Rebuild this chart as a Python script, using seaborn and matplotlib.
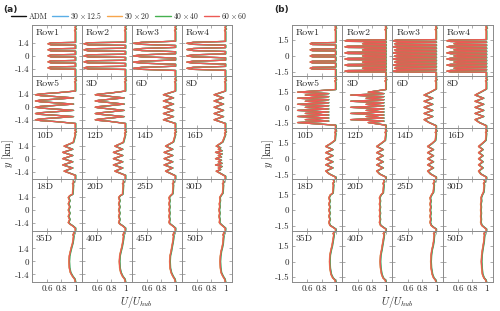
"""
Wake profiles behind wind-farm rows: ADM vs. LES grid resolutions.
Two layouts, (a) aligned and (b) staggered, 5x4 small multiples each.
"""

import matplotlib
matplotlib.use("Agg")
import matplotlib.pyplot as plt
import pandas as pd
import seaborn as sns
from matplotlib.lines import Line2D

# ── Series ──────────────────────────────────────────────────────────────────
MODELS = ["ADM", r"$30 \times 12.5$", r"$30 \times 20$", r"$40 \times 40$", r"$60 \times 60$"]
COLORS = ["#111111", "#5aaee6", "#f7a54c", "#45b04f", "#ec5a55"]
SERIES_DU = [0.0, 0.004, -0.004, 0.008, 0.0]   # small spread between the resolutions

LABELS = ["Row1", "Row2", "Row3", "Row4",
          "Row5", "3D", "6D", "8D",
          "10D", "12D", "14D", "16D",
          "18D", "20D", "25D", "30D",
          "35D", "40D", "45D", "50D"]

XTICKS = [0.6, 0.8, 1.0]
XTICKLABELS = ["0.6", "0.8", "1"]
YTICKS_A = [-1.4, 0.0, 1.4]
YTICKLABELS_A = ["-1.4", "0", "1.4"]
YTICKS_B = [-1.5, 0.0, 1.5]
YTICKLABELS_B = ["-1.5", "0", "1.5"]

# ── Panel (a): (U/Uhub, y [km]) vertices, bottom to top ──────────────────────
A_BOT = [(1.00, -2.20)]
A_TOP = [(1.00, 2.60), (0.99, 2.75), (1.01, 2.90), (0.995, 3.05), (1.005, 3.20)]

A_ROW1 = A_BOT + [
    (1.00, -1.45), (0.65, -1.41), (0.61, -1.30), (0.65, -1.19), (1.00, -1.15),
    (1.00, -0.80), (0.65, -0.76), (0.61, -0.65), (0.65, -0.54), (1.00, -0.50),
    (1.00, -0.15), (0.65, -0.11), (0.61, 0.00), (0.65, 0.11), (1.00, 0.15),
    (1.00, 0.50), (0.65, 0.54), (0.61, 0.65), (0.65, 0.76), (1.00, 0.80),
    (1.00, 1.15), (0.65, 1.19), (0.61, 1.30), (0.65, 1.41), (1.00, 1.45),
] + A_TOP
A_ROW2 = A_BOT + [
    (1.00, -1.47), (0.47, -1.42), (0.41, -1.30), (0.47, -1.18), (1.00, -1.13),
    (1.00, -0.82), (0.47, -0.77), (0.41, -0.65), (0.47, -0.53), (1.00, -0.48),
    (1.00, -0.17), (0.47, -0.12), (0.41, 0.00), (0.47, 0.12), (1.00, 0.17),
    (1.00, 0.48), (0.47, 0.53), (0.41, 0.65), (0.47, 0.77), (1.00, 0.82),
    (1.00, 1.13), (0.47, 1.18), (0.41, 1.30), (0.47, 1.42), (1.00, 1.47),
] + A_TOP
A_ROW3 = A_BOT + [
    (1.00, -1.58), (0.52, -1.46), (0.40, -1.35), (0.52, -1.24), (1.00, -1.12),
    (1.00, -0.91), (0.52, -0.79), (0.40, -0.68), (0.52, -0.57), (1.00, -0.45),
    (1.00, -0.23), (0.52, -0.11), (0.40, 0.00), (0.52, 0.11), (1.00, 0.23),
    (1.00, 0.45), (0.52, 0.57), (0.40, 0.68), (0.52, 0.79), (1.00, 0.91),
    (1.00, 1.12), (0.52, 1.24), (0.40, 1.35), (0.52, 1.46), (1.00, 1.58),
] + A_TOP
A_ROW4 = A_BOT + [
    (1.00, -1.56), (0.54, -1.46), (0.45, -1.35), (0.54, -1.24), (1.00, -1.14),
    (1.00, -0.89), (0.54, -0.79), (0.45, -0.68), (0.54, -0.57), (1.00, -0.47),
    (1.00, -0.21), (0.54, -0.11), (0.45, 0.00), (0.54, 0.11), (1.00, 0.21),
    (1.00, 0.47), (0.54, 0.57), (0.45, 0.68), (0.54, 0.79), (1.00, 0.89),
    (1.00, 1.14), (0.54, 1.24), (0.45, 1.35), (0.54, 1.46), (1.00, 1.56),
] + A_TOP
A_ROW5 = A_BOT + [
    (1.00, -1.75), (0.72, -1.55), (0.50, -1.44), (0.43, -1.35), (0.50, -1.26), (0.72, -1.15),
    (0.97, -1.01), (0.72, -0.87), (0.50, -0.77), (0.43, -0.68), (0.50, -0.59), (0.72, -0.48),
    (0.97, -0.34), (0.72, -0.20), (0.50, -0.09), (0.43, 0.00), (0.50, 0.09), (0.72, 0.20),
    (0.97, 0.34), (0.72, 0.48), (0.50, 0.59), (0.43, 0.68), (0.50, 0.77), (0.72, 0.87),
    (0.97, 1.01), (0.72, 1.15), (0.50, 1.26), (0.43, 1.35), (0.50, 1.44), (0.72, 1.55),
    (1.00, 1.75),
] + A_TOP
A_3D = A_BOT + [
    (1.00, -1.75), (0.78, -1.53), (0.62, -1.42), (0.57, -1.35), (0.62, -1.28), (0.78, -1.17),
    (0.98, -1.01), (0.78, -0.86), (0.62, -0.75), (0.57, -0.68), (0.62, -0.61), (0.78, -0.50),
    (0.98, -0.34), (0.78, -0.18), (0.62, -0.07), (0.57, 0.00), (0.62, 0.07), (0.78, 0.18),
    (0.98, 0.34), (0.78, 0.50), (0.62, 0.61), (0.57, 0.68), (0.62, 0.75), (0.78, 0.86),
    (0.98, 1.01), (0.78, 1.17), (0.62, 1.28), (0.57, 1.35), (0.62, 1.42), (0.78, 1.53),
    (1.00, 1.75),
] + A_TOP
A_6D = A_BOT + [
    (1.00, -1.75), (0.83, -1.35), (0.97, -1.01), (0.83, -0.68), (0.97, -0.34), (0.83, 0.00),
    (0.97, 0.34), (0.83, 0.68), (0.97, 1.01), (0.83, 1.35), (1.00, 1.75),
] + A_TOP
A_8D = A_BOT + [
    (1.00, -1.75), (0.84, -1.35), (0.97, -1.01), (0.84, -0.68), (0.97, -0.34), (0.84, 0.00),
    (0.97, 0.34), (0.84, 0.68), (0.97, 1.01), (0.84, 1.35), (1.00, 1.75),
] + A_TOP
A_10D = A_BOT + [
    (1.00, -1.80), (0.84, -1.35), (0.96, -1.01), (0.82, -0.68), (0.96, -0.34), (0.82, 0.00),
    (0.96, 0.34), (0.82, 0.68), (0.96, 1.01), (0.84, 1.35), (0.97, 1.75),
] + A_TOP
A_12D = A_BOT + [
    (1.00, -1.80), (0.85, -1.35), (0.96, -1.01), (0.83, -0.68), (0.96, -0.34), (0.83, 0.00),
    (0.96, 0.34), (0.83, 0.68), (0.96, 1.01), (0.85, 1.35), (0.97, 1.75),
] + A_TOP
A_14D = A_BOT + [
    (1.00, -1.85), (0.86, -1.35), (0.96, -1.01), (0.84, -0.68), (0.96, -0.34), (0.84, 0.00),
    (0.96, 0.34), (0.84, 0.68), (0.96, 1.01), (0.86, 1.35), (0.97, 1.80),
] + A_TOP
A_16D = A_BOT + [
    (1.00, -1.90), (0.87, -1.35), (0.93, -1.18), (0.90, -1.01), (0.95, -0.85), (0.86, -0.68),
    (0.95, -0.51), (0.90, -0.34), (0.94, -0.17), (0.86, 0.00), (0.94, 0.17), (0.90, 0.34),
    (0.95, 0.51), (0.86, 0.68), (0.95, 0.85), (0.90, 1.01), (0.93, 1.18), (0.87, 1.35),
    (0.96, 1.80),
] + A_TOP
A_18D = [
    (1.00, -2.20), (1.00, -1.95), (0.96, -1.70), (0.92, -1.50), (0.90, -1.35), (0.92, -1.01),
    (0.90, -0.68), (0.92, -0.34), (0.90, 0.00), (0.92, 0.34), (0.90, 0.68), (0.92, 1.01),
    (0.90, 1.35), (0.92, 1.55), (0.96, 1.70), (0.965, 2.20), (0.97, 2.70), (0.96, 2.85),
    (0.98, 3.00), (0.97, 3.15),
]
A_20D = [
    (1.00, -2.20), (1.00, -1.95), (0.96, -1.70), (0.92, -1.50), (0.905, -1.35), (0.92, -1.01),
    (0.905, -0.68), (0.92, -0.34), (0.905, 0.00), (0.92, 0.34), (0.905, 0.68), (0.92, 1.01),
    (0.905, 1.35), (0.925, 1.55), (0.96, 1.70), (0.965, 2.20), (0.97, 2.70), (0.96, 2.85),
    (0.98, 3.00), (0.97, 3.15),
]
A_25D = [
    (1.00, -2.20), (1.00, -1.95), (0.96, -1.70), (0.925, -1.50), (0.91, -1.35), (0.92, -1.01),
    (0.91, -0.68), (0.92, -0.34), (0.91, 0.00), (0.92, 0.34), (0.91, 0.68), (0.92, 1.01),
    (0.91, 1.35), (0.93, 1.55), (0.96, 1.75), (0.965, 2.20), (0.97, 2.70), (0.96, 2.85),
    (0.98, 3.00), (0.97, 3.15),
]
A_30D = [
    (1.00, -2.20), (1.00, -1.95), (0.96, -1.70), (0.93, -1.50), (0.915, -1.35), (0.92, -1.01),
    (0.91, -0.68), (0.92, -0.34), (0.91, 0.00), (0.92, 0.34), (0.915, 0.68), (0.925, 1.01),
    (0.92, 1.35), (0.935, 1.55), (0.96, 1.80), (0.965, 2.20), (0.97, 2.70), (0.96, 2.85),
    (0.98, 3.00), (0.97, 3.15),
]
A_35D = [
    (1.00, -2.20), (0.99, -1.90), (0.96, -1.60), (0.93, -1.20), (0.915, -0.70), (0.91, 0.00),
    (0.915, 0.60), (0.93, 1.10), (0.945, 1.55), (0.96, 1.95), (0.97, 2.40), (0.975, 2.75),
    (0.965, 2.90), (0.985, 3.05), (0.975, 3.20),
]
A_40D = [
    (1.00, -2.20), (0.99, -1.90), (0.96, -1.60), (0.935, -1.20), (0.92, -0.70), (0.915, 0.00),
    (0.92, 0.60), (0.935, 1.10), (0.95, 1.55), (0.96, 1.95), (0.97, 2.40), (0.975, 2.75),
    (0.965, 2.90), (0.985, 3.05), (0.975, 3.20),
]
A_45D = [
    (1.00, -2.20), (0.99, -1.90), (0.965, -1.60), (0.94, -1.20), (0.925, -0.70), (0.92, 0.00),
    (0.925, 0.60), (0.94, 1.10), (0.95, 1.55), (0.96, 1.95), (0.97, 2.40), (0.975, 2.75),
    (0.965, 2.90), (0.985, 3.05), (0.975, 3.20),
]
A_50D = [
    (1.00, -2.20), (0.99, -1.90), (0.965, -1.60), (0.94, -1.20), (0.93, -0.70), (0.925, 0.00),
    (0.93, 0.60), (0.94, 1.10), (0.955, 1.55), (0.965, 1.95), (0.97, 2.40), (0.975, 2.75),
    (0.965, 2.90), (0.985, 3.05), (0.975, 3.20),
]

# ── Panel (b) ───────────────────────────────────────────────────────────────
B_BOT = [(1.00, -1.95)]
B_TOP = [(1.00, 2.40), (0.99, 2.52), (1.01, 2.64), (0.995, 2.76), (1.005, 2.88)]

B_ROW1 = B_BOT + [
    (1.00, -1.28), (0.67, -1.25), (0.64, -1.17), (0.67, -1.09), (1.00, -1.06),
    (1.00, -0.69), (0.67, -0.66), (0.64, -0.58), (0.67, -0.50), (1.00, -0.47),
    (1.00, -0.11), (0.67, -0.08), (0.64, 0.00), (0.67, 0.08), (1.00, 0.11),
    (1.00, 0.47), (0.67, 0.50), (0.64, 0.58), (0.67, 0.66), (1.00, 0.69),
    (1.00, 1.06), (0.67, 1.09), (0.64, 1.17), (0.67, 1.25), (1.00, 1.28),
] + B_TOP
B_ROW2 = B_BOT + [
    (1.00, -1.54), (0.46, -1.51), (0.42, -1.45), (0.46, -1.39), (1.00, -1.36),
    (1.00, -1.26), (0.70, -1.23), (0.67, -1.17), (0.70, -1.11), (1.00, -1.08),
    (1.00, -0.96), (0.46, -0.93), (0.42, -0.87), (0.46, -0.81), (1.00, -0.78),
    (1.00, -0.67), (0.70, -0.64), (0.67, -0.58), (0.70, -0.52), (1.00, -0.49),
    (1.00, -0.38), (0.46, -0.35), (0.42, -0.29), (0.46, -0.23), (1.00, -0.20),
    (1.00, -0.09), (0.70, -0.06), (0.67, 0.00), (0.70, 0.06), (1.00, 0.09),
    (1.00, 0.20), (0.46, 0.23), (0.42, 0.29), (0.46, 0.35), (1.00, 0.38),
    (1.00, 0.49), (0.70, 0.52), (0.67, 0.58), (0.70, 0.64), (1.00, 0.67),
    (1.00, 0.78), (0.46, 0.81), (0.42, 0.87), (0.46, 0.93), (1.00, 0.96),
    (1.00, 1.08), (0.70, 1.11), (0.67, 1.17), (0.70, 1.23), (1.00, 1.26),
    (1.00, 1.36), (0.46, 1.39), (0.42, 1.45), (0.46, 1.51), (1.00, 1.54),
] + B_TOP
B_ROW3 = B_BOT + [
    (1.00, -1.56), (0.44, -1.52), (0.39, -1.45), (0.44, -1.38), (1.00, -1.33),
    (1.00, -1.28), (0.46, -1.24), (0.41, -1.17), (0.46, -1.10), (1.00, -1.06),
    (1.00, -0.98), (0.44, -0.94), (0.39, -0.87), (0.44, -0.80), (1.00, -0.76),
    (1.00, -0.69), (0.46, -0.65), (0.41, -0.58), (0.46, -0.51), (1.00, -0.47),
    (1.00, -0.40), (0.44, -0.36), (0.39, -0.29), (0.44, -0.22), (1.00, -0.18),
    (1.00, -0.11), (0.46, -0.07), (0.41, 0.00), (0.46, 0.07), (1.00, 0.11),
    (1.00, 0.18), (0.44, 0.22), (0.39, 0.29), (0.44, 0.36), (1.00, 0.40),
    (1.00, 0.47), (0.46, 0.51), (0.41, 0.58), (0.46, 0.65), (1.00, 0.69),
    (1.00, 0.76), (0.44, 0.80), (0.39, 0.87), (0.44, 0.94), (1.00, 0.98),
    (1.00, 1.06), (0.46, 1.10), (0.41, 1.17), (0.46, 1.24), (1.00, 1.28),
    (1.00, 1.33), (0.44, 1.38), (0.39, 1.45), (0.44, 1.52), (1.00, 1.56),
] + B_TOP
B_ROW4 = B_BOT + [
    (1.00, -1.56), (0.49, -1.52), (0.44, -1.45), (0.49, -1.38), (1.00, -1.33),
    (1.00, -1.28), (0.59, -1.24), (0.54, -1.17), (0.59, -1.10), (1.00, -1.06),
    (1.00, -0.98), (0.49, -0.94), (0.44, -0.87), (0.49, -0.80), (1.00, -0.76),
    (1.00, -0.69), (0.59, -0.65), (0.54, -0.58), (0.59, -0.51), (1.00, -0.47),
    (1.00, -0.40), (0.49, -0.36), (0.44, -0.29), (0.49, -0.22), (1.00, -0.18),
    (1.00, -0.11), (0.59, -0.07), (0.54, 0.00), (0.59, 0.07), (1.00, 0.11),
    (1.00, 0.18), (0.49, 0.22), (0.44, 0.29), (0.49, 0.36), (1.00, 0.40),
    (1.00, 0.47), (0.59, 0.51), (0.54, 0.58), (0.59, 0.65), (1.00, 0.69),
    (1.00, 0.76), (0.49, 0.80), (0.44, 0.87), (0.49, 0.94), (1.00, 0.98),
    (1.00, 1.06), (0.59, 1.10), (0.54, 1.17), (0.59, 1.24), (1.00, 1.28),
    (1.00, 1.33), (0.49, 1.38), (0.44, 1.45), (0.49, 1.52), (1.00, 1.56),
] + B_TOP
B_ROW5 = B_BOT + [
    (1.00, -1.70), (0.46, -1.45), (0.90, -1.31), (0.57, -1.17), (0.90, -1.02), (0.46, -0.87),
    (0.90, -0.73), (0.57, -0.58), (0.90, -0.44), (0.46, -0.29), (0.90, -0.15), (0.57, 0.00),
    (0.90, 0.15), (0.46, 0.29), (0.90, 0.44), (0.57, 0.58), (0.90, 0.73), (0.46, 0.87),
    (0.90, 1.02), (0.57, 1.17), (0.90, 1.31), (0.46, 1.45), (1.00, 1.70),
] + B_TOP
B_3D = B_BOT + [
    (1.00, -1.70), (0.75, -1.45), (0.97, -1.31), (0.50, -1.17), (0.97, -1.02), (0.72, -0.87),
    (0.97, -0.73), (0.50, -0.58), (0.97, -0.44), (0.72, -0.29), (0.97, -0.15), (0.50, 0.00),
    (0.97, 0.15), (0.72, 0.29), (0.97, 0.44), (0.50, 0.58), (0.97, 0.73), (0.72, 0.87),
    (0.97, 1.02), (0.50, 1.17), (0.97, 1.31), (0.75, 1.45), (1.00, 1.70),
] + B_TOP
B_6D = B_BOT + [
    (1.00, -1.75), (0.90, -1.45), (0.83, -1.17), (0.95, -0.87), (0.83, -0.58), (0.95, -0.29),
    (0.83, 0.00), (0.95, 0.29), (0.83, 0.58), (0.95, 0.87), (0.83, 1.17), (0.92, 1.45),
    (1.00, 1.75),
] + B_TOP
B_8D = B_BOT + [
    (1.00, -1.75), (0.90, -1.45), (0.84, -1.17), (0.96, -0.87), (0.84, -0.58), (0.96, -0.29),
    (0.84, 0.00), (0.96, 0.29), (0.84, 0.58), (0.96, 0.87), (0.84, 1.17), (0.92, 1.45),
    (1.00, 1.75),
] + B_TOP
B_10D = B_BOT + [
    (1.00, -1.75), (0.91, -1.45), (0.86, -1.17), (0.96, -0.87), (0.86, -0.58), (0.96, -0.29),
    (0.86, 0.00), (0.96, 0.29), (0.86, 0.58), (0.96, 0.87), (0.86, 1.17), (0.93, 1.45),
    (0.99, 1.75),
] + B_TOP
B_12D = B_BOT + [
    (1.00, -1.75), (0.91, -1.45), (0.87, -1.17), (0.96, -0.87), (0.87, -0.58), (0.96, -0.29),
    (0.87, 0.00), (0.96, 0.29), (0.87, 0.58), (0.96, 0.87), (0.87, 1.17), (0.93, 1.45),
    (0.99, 1.75),
] + B_TOP
B_14D = B_BOT + [
    (1.00, -1.75), (0.92, -1.45), (0.88, -1.17), (0.96, -0.87), (0.88, -0.58), (0.96, -0.29),
    (0.88, 0.00), (0.96, 0.29), (0.88, 0.58), (0.96, 0.87), (0.88, 1.17), (0.94, 1.45),
    (0.99, 1.75),
] + B_TOP
B_16D = B_BOT + [
    (1.00, -1.75), (0.92, -1.45), (0.89, -1.17), (0.95, -0.87), (0.89, -0.58), (0.95, -0.29),
    (0.89, 0.00), (0.95, 0.29), (0.89, 0.58), (0.95, 0.87), (0.89, 1.17), (0.94, 1.45),
    (0.99, 1.75),
] + B_TOP
B_18D = [
    (1.00, -1.95), (1.00, -1.80), (0.96, -1.62), (0.92, -1.45), (0.905, -1.17), (0.92, -0.87),
    (0.905, -0.58), (0.92, -0.29), (0.905, 0.00), (0.92, 0.29), (0.905, 0.58), (0.92, 0.87),
    (0.905, 1.17), (0.925, 1.45), (0.96, 1.62), (0.965, 2.00), (0.97, 2.40), (0.96, 2.55),
    (0.98, 2.70), (0.97, 2.85),
]
B_20D = [
    (1.00, -1.95), (1.00, -1.80), (0.96, -1.62), (0.925, -1.45), (0.91, -1.17), (0.92, -0.87),
    (0.91, -0.58), (0.92, -0.29), (0.91, 0.00), (0.92, 0.29), (0.91, 0.58), (0.92, 0.87),
    (0.91, 1.17), (0.93, 1.45), (0.96, 1.65), (0.965, 2.00), (0.97, 2.40), (0.96, 2.55),
    (0.98, 2.70), (0.97, 2.85),
]
B_25D = [
    (1.00, -1.95), (1.00, -1.80), (0.96, -1.62), (0.93, -1.45), (0.915, -1.17), (0.925, -0.87),
    (0.915, -0.58), (0.925, -0.29), (0.915, 0.00), (0.925, 0.29), (0.915, 0.58), (0.925, 0.87),
    (0.915, 1.17), (0.935, 1.45), (0.96, 1.70), (0.965, 2.00), (0.97, 2.40), (0.96, 2.55),
    (0.98, 2.70), (0.97, 2.85),
]
B_30D = [
    (1.00, -1.95), (1.00, -1.80), (0.965, -1.62), (0.935, -1.45), (0.92, -1.17), (0.925, -0.87),
    (0.92, -0.58), (0.925, -0.29), (0.92, 0.00), (0.925, 0.29), (0.92, 0.58), (0.93, 0.87),
    (0.925, 1.17), (0.94, 1.45), (0.96, 1.70), (0.965, 2.00), (0.97, 2.40), (0.96, 2.55),
    (0.98, 2.70), (0.97, 2.85),
]
B_35D = [
    (1.00, -1.95), (0.99, -1.75), (0.96, -1.55), (0.935, -1.20), (0.92, -0.60), (0.915, 0.00),
    (0.92, 0.60), (0.935, 1.10), (0.95, 1.50), (0.96, 1.90), (0.97, 2.30), (0.975, 2.55),
    (0.965, 2.68), (0.985, 2.80), (0.975, 2.90),
]
B_40D = [
    (1.00, -1.95), (0.99, -1.75), (0.96, -1.55), (0.94, -1.20), (0.925, -0.60), (0.92, 0.00),
    (0.925, 0.60), (0.94, 1.10), (0.95, 1.50), (0.96, 1.90), (0.97, 2.30), (0.975, 2.55),
    (0.965, 2.68), (0.985, 2.80), (0.975, 2.90),
]
B_45D = [
    (1.00, -1.95), (0.99, -1.75), (0.965, -1.55), (0.945, -1.20), (0.93, -0.60), (0.925, 0.00),
    (0.93, 0.60), (0.94, 1.10), (0.955, 1.50), (0.965, 1.90), (0.97, 2.30), (0.975, 2.55),
    (0.965, 2.68), (0.985, 2.80), (0.975, 2.90),
]
B_50D = [
    (1.00, -1.95), (0.99, -1.75), (0.965, -1.55), (0.945, -1.20), (0.935, -0.60), (0.93, 0.00),
    (0.935, 0.60), (0.945, 1.10), (0.955, 1.50), (0.965, 1.90), (0.97, 2.30), (0.975, 2.55),
    (0.965, 2.68), (0.985, 2.80), (0.975, 2.90),
]

PROFILES_A = [A_ROW1, A_ROW2, A_ROW3, A_ROW4, A_ROW5, A_3D, A_6D, A_8D, A_10D, A_12D,
              A_14D, A_16D, A_18D, A_20D, A_25D, A_30D, A_35D, A_40D, A_45D, A_50D]
PROFILES_B = [B_ROW1, B_ROW2, B_ROW3, B_ROW4, B_ROW5, B_3D, B_6D, B_8D, B_10D, B_12D,
              B_14D, B_16D, B_18D, B_20D, B_25D, B_30D, B_35D, B_40D, B_45D, B_50D]

# ── Style ───────────────────────────────────────────────────────────────────
XLIM = (0.38, 1.095)
YLIM_A = (-2.22, 3.33)
YLIM_B = (-1.95, 2.95)
FRAME = "#8a8a8a"

sns.set_theme(style="ticks")
plt.rcParams["font.family"] = ["cmr10", "DejaVu Serif"]
plt.rcParams["mathtext.fontset"] = "cm"
plt.rcParams["axes.formatter.use_mathtext"] = True


def profile_frame(points):
    rows = []
    for model, du in zip(MODELS, SERIES_DU):
        for u, y in points:
            rows.append((model, u + du, y))
    return pd.DataFrame(rows, columns=["model", "U", "y"])


def draw_panel(fig, gs, profiles, ylim, yticks, yticklabels):
    for i, (label, pts) in enumerate(zip(LABELS, profiles)):
        r, c = divmod(i, 4)
        ax = fig.add_subplot(gs[r, c])
        sns.lineplot(data=profile_frame(pts), x="U", y="y", hue="model",
                     hue_order=MODELS, palette=COLORS, sort=False,
                     estimator=None, lw=0.9, legend=False, ax=ax)
        ax.set_xlim(XLIM)
        ax.set_ylim(ylim)
        ax.set_xlabel("")
        ax.set_ylabel("")
        ax.set_xticks(XTICKS)
        ax.set_yticks(yticks)
        ax.set_xticklabels(XTICKLABELS if r == 4 else [])
        ax.set_yticklabels(yticklabels if c == 0 else [])
        ax.tick_params(direction="in", length=2, width=0.5, color=FRAME,
                       labelsize=6.5, pad=2, top=True, right=True)
        for sp in ax.spines.values():
            sp.set_color(FRAME)
            sp.set_linewidth(0.7)
        ax.text(0.08, 0.85, label, transform=ax.transAxes, fontsize=7,
                ha="left", va="center")


fig = plt.figure(figsize=(5, 3.11), dpi=100)
gs_a = fig.add_gridspec(5, 4, left=0.064, right=0.464, top=0.9196, bottom=0.0932,
                        wspace=0, hspace=0)
gs_b = fig.add_gridspec(5, 4, left=0.584, right=0.986, top=0.9196, bottom=0.0932,
                        wspace=0, hspace=0)

draw_panel(fig, gs_a, PROFILES_A, YLIM_A, YTICKS_A, YTICKLABELS_A)
draw_panel(fig, gs_b, PROFILES_B, YLIM_B, YTICKS_B, YTICKLABELS_B)

# axis titles and panel tags
fig.text(0.272, 0.028, r"$U/U_{hub}$", ha="center", va="center", fontsize=7.5)
fig.text(0.795, 0.028, r"$U/U_{hub}$", ha="center", va="center", fontsize=7.5)
fig.text(0.016, 0.507, r"$y$ [km]", rotation=90, ha="center", va="center", fontsize=7.5)
fig.text(0.536, 0.507, r"$y$ [km]", rotation=90, ha="center", va="center", fontsize=7.5)
fig.text(0.02, 0.968, "(a)", family="DejaVu Sans", weight="bold", fontsize=6.5,
         ha="center", va="center")
fig.text(0.564, 0.968, "(b)", family="DejaVu Sans", weight="bold", fontsize=6.5,
         ha="center", va="center")

handles = [Line2D([], [], color=col, lw=1.0) for col in COLORS]
fig.legend(handles, MODELS, loc="center", bbox_to_anchor=(0.258, 0.950), ncol=5,
           frameon=False, fontsize=5.6, handlelength=2.0, handletextpad=0.3,
           columnspacing=0.6, borderpad=0.1, borderaxespad=0)

fig.savefig("out.png", dpi=100)
